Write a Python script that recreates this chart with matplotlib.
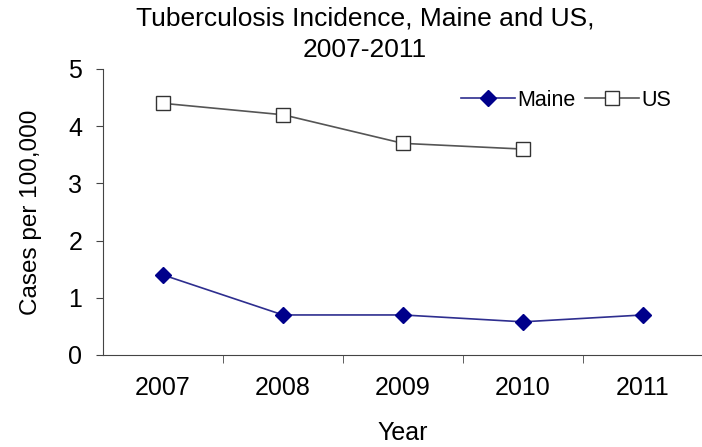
import matplotlib
matplotlib.use("Agg")
import matplotlib.pyplot as plt
import numpy as np

plt.rcParams["font.family"] = ["Liberation Sans", "DejaVu Sans"]

years = ["2007", "2008", "2009", "2010", "2011"]
maine = [1.4, 0.7, 0.7, 0.58, 0.7]
us = [4.4, 4.2, 3.7, 3.6]

fig = plt.figure(figsize=(7.02, 4.47), dpi=100)
ax = fig.add_axes([103 / 702, 1 - 355 / 447, 600 / 702, 286 / 447])

x = np.arange(len(years))
ax.plot(x, maine, color="#2e2e8f", lw=1.2, marker="D", ms=8,
        mfc="#00008b", mec="#00008b", label="Maine")
ax.plot(x[:len(us)], us, color="#555555", lw=1.2, marker="s", ms=10,
        mfc="white", mec="#333333", mew=1.0, label="US")

ax.set_xlim(-0.5, len(years) - 0.5)
ax.set_ylim(0, 5)
ax.set_yticks(range(6))
ax.set_xticks(x)
ax.set_xticklabels(years)
ax.set_xticks(np.arange(0.5, len(years) - 0.5), minor=True)
ax.tick_params(axis="x", which="major", length=0, pad=15, labelsize=18)
ax.tick_params(axis="x", which="minor", length=6, direction="out", color="#444444")
ax.tick_params(axis="y", length=5, direction="out", labelsize=18, pad=10, color="#444444")
for s in ("top", "right"):
    ax.spines[s].set_visible(False)
for s in ("left", "bottom"):
    ax.spines[s].set_color("#444444")

ax.set_xlabel("Year", fontsize=18, labelpad=15)
ax.set_ylabel("Cases per 100,000", fontsize=17.5, labelpad=19)
fig.suptitle("Tuberculosis Incidence, Maine and US,\n2007-2011",
             fontsize=19, x=365 / 702, y=0.985, va="top", linespacing=1.36)

ax.legend(loc="center left", bbox_to_anchor=(0.597, 0.89), ncol=2, frameon=False,
          fontsize=15.5, handlelength=2.5, handletextpad=0.1, columnspacing=0.45,
          borderpad=0, borderaxespad=0)

fig.savefig("out.png", dpi=100)
